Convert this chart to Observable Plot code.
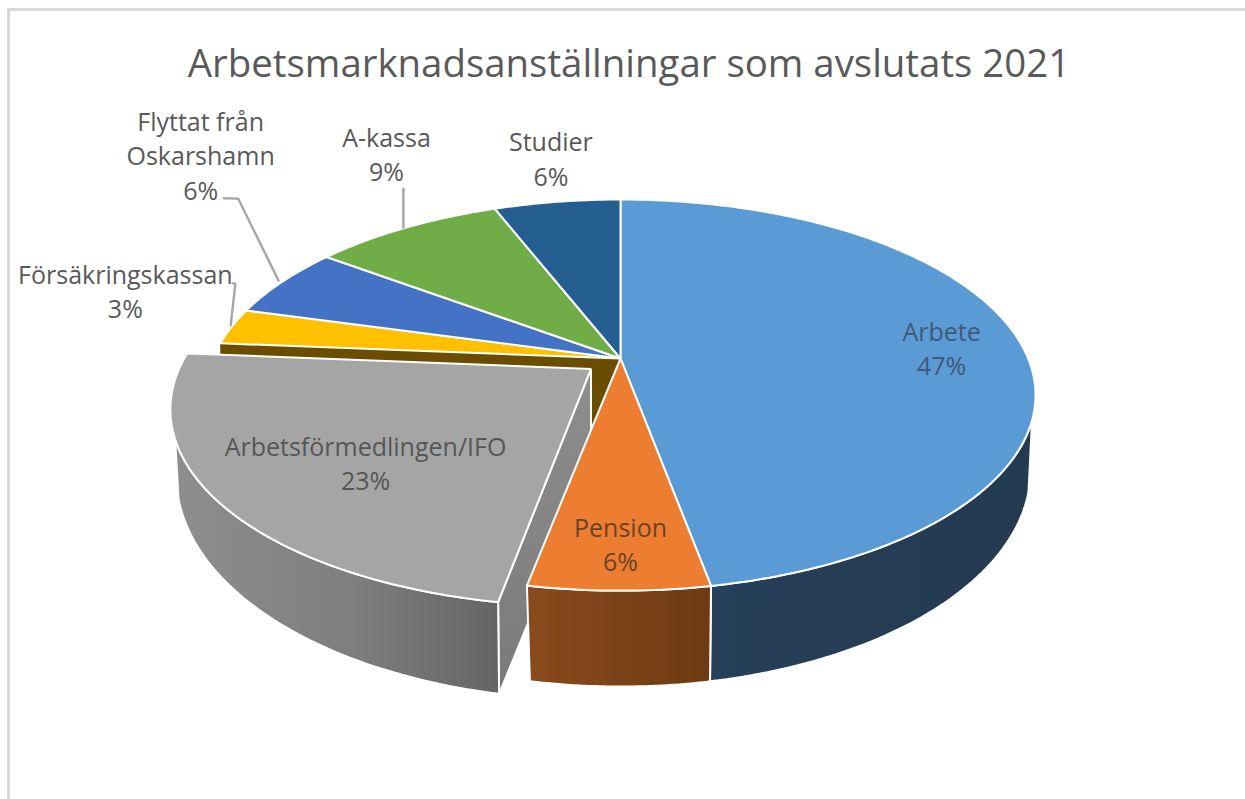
<!DOCTYPE html>
<html lang="sv">
<head>
<meta charset="utf-8">
<script src="https://cdn.jsdelivr.net/npm/d3@7"></script>
<script src="https://cdn.jsdelivr.net/npm/@observablehq/plot@0.6"></script>
<style>
  html, body { margin: 0; padding: 0; background: #fff; overflow: hidden; }
  #frame { position: absolute; left: 7px; top: 8px; right: 0; bottom: 0; border-top: 3px solid #d9d9d9; border-left: 3px solid #d9d9d9; }
  #title { position: absolute; left: 0; top: 0; width: 1245px; height: 90px; margin: 0; text-align: center; font: 400 38.4px/124px "Open Sans", sans-serif; color: #595959; padding-left: 13px; box-sizing: border-box; line-height: 124px; }
  #chart { position: absolute; left: 0; top: 90px; }
</style>
</head>
<body>
<div id="frame"></div>
<h1 id="title">Arbetsmarknadsanställningar som avslutats 2021</h1>
<div id="chart"></div>
<script>
// Data (clockwise from twelve o'clock)
const categories = ["Arbete", "Pension", "Arbetsförmedlingen/IFO", "Försäkringskassan", "Flyttat från\nOskarshamn", "A-kassa", "Studier"];
const shares = [47.1, 5.9, 23.3, 3.0, 5.9, 8.9, 5.9];
const percentLabels = ["47%", "6%", "23%", "3%", "6%", "9%", "6%"];
const sliceColors = ["#5b9bd5", "#ed7d31", "#a5a5a5", "#ffc000", "#4472c4", "#70ad47", "#255e91"];
const labelColors = ["#3d5a78", "#6a4326", "#565656", "#595959", "#595959", "#595959", "#595959"];
// Label placement relative to each slice: turn from the mid-angle (deg), and radius
const labelTurn = [0.8, -0.18, -3.94, 6.57, 20.3, 9.46, 1.52];
const labelRadius = [0.799, 0.827, 0.754, 1.36, 1.872, 1.545, 1.349];
// Leader lines: [angle, radius] per vertex, for the outer labels
const leaders = [
  [[280.4, 1.005], [292.8, 1.107], [292.7, 1.114]],
  [[296.2, 1.013], [312.1, 1.502], [311.1, 1.535]],
  [[322.5, 1.005], [329.4, 1.258]]
];

// Perspective view of the pie disc
const view = {cx: 620, cy: 358, a: 407.7, b: 188.7, k: 0.187};
const lowerMain = {cx: 620, cy: 470, rx: 410, ry: 216};
const lowerExploded = {cx: 592, cy: 476, rx: 416, ry: 223};
const explodedIndex = 2, explodeBy = 0.09, explodedStartAdjust = -1;
const titleBand = 90, W = 1245, H = 799;

const rad = (d) => d * Math.PI / 180;
function project(deg, r = 1, du = 0, dv = 0) {
  const u = r * Math.sin(rad(deg)) + du, v = -r * Math.cos(rad(deg)) + dv, w = 1 - view.k * v;
  return {x: view.cx + view.a * u / w, y: view.cy + view.b * v / w};
}
const arc = (a0, a1, du = 0, dv = 0) => {
  const n = Math.max(2, Math.ceil(Math.abs(a1 - a0)));
  return d3.range(n + 1).map((i) => project(a0 + (a1 - a0) * i / n, 1, du, dv));
};
// Lower rim between two x positions
const lowerArc = (e, x0, x1) => {
  const f0 = Math.acos((x0 - e.cx) / e.rx), f1 = Math.acos((x1 - e.cx) / e.rx);
  return d3.range(61).map((i) => {
    const f = f0 + (f1 - f0) * i / 60;
    return {x: e.cx + e.rx * Math.cos(f), y: e.cy + e.ry * Math.sin(f)};
  });
};

const ends = Array.from(d3.cumsum(shares), (c) => c * 3.6);
const starts = ends.map((_, i) => (i ? ends[i - 1] : 0));
const mids = starts.map((s, i) => (s + ends[i]) / 2);
const exMid = mids[explodedIndex];
const du = explodeBy * Math.sin(rad(exMid)), dv = -explodeBy * Math.cos(rad(exMid));
const exStart = starts[explodedIndex] + explodedStartAdjust, exEnd = ends[explodedIndex];

const tops = categories.map((_, i) => {
  if (i === explodedIndex) return [project(0, 0, du, dv), ...arc(exStart, exEnd, du, dv)];
  return [project(0, 0), ...arc(starts[i], ends[i])];
});

// Side walls
const arbeteRim = arc(108, ends[0]);
const rimX0 = project(ends[0]).x, rimX1 = project(ends[1]).x;
const arbeteSide = [...arbeteRim, ...lowerArc(lowerMain, rimX0 - 1, 1028)];
const pensionSide = [...arc(starts[1], ends[1]), ...lowerArc(lowerMain, rimX1 + 3, rimX0 - 1)];
const exCorner = project(exStart, 1, du, dv), exApex = project(0, 0, du, dv);
const graySide = [...arc(exStart, 250, du, dv), ...lowerArc(lowerExploded, 178, exCorner.x + 1)];
const exBottom = lowerArc(lowerExploded, exCorner.x + 1, exCorner.x + 1)[0];
const grayInner = [exApex, exCorner, exBottom, {x: exApex.x, y: exApex.y + 100}];
const cutRim = project(ends[explodedIndex]), apex = project(0, 0);
const cutWall = [cutRim, apex, {x: apex.x - 20, y: apex.y + 82}, {x: cutRim.x, y: cutRim.y + 82}];

const face = (pts, fill, strokeWidth = 2) =>
  Plot.line(pts, {x: "x", y: "y", fill, stroke: "#fff", strokeWidth, strokeLinejoin: "miter", curve: "linear-closed"});

const labels = categories.map((name, i) => ({
  ...project(mids[i] + labelTurn[i], labelRadius[i]),
  text: name + "\n" + percentLabels[i],
  color: labelColors[i]
}));
const leaderPoints = leaders.flatMap((pts, id) => pts.map(([deg, r]) => ({...project(deg, r), id})));

const drawOrder = [0, 1, 3, 4, 5, 6, 2];

const plot = Plot.plot({
  width: W, height: H - titleBand, margin: 0,
  x: {domain: [0, W], range: [0, W], axis: null},
  y: {domain: [titleBand, H], range: [0, H - titleBand], axis: null},
  color: {type: "identity"},
  style: {background: "transparent", overflow: "visible"},
  marks: [
    face(cutWall, "#6b4d00", 0),
    face(grayInner, "url(#wallGray)", 2),
    face(graySide, "url(#sideGray)", 2),
    face(arbeteSide, "url(#sideBlue)", 2),
    face(pensionSide, "url(#sideOrange)", 2),
    ...drawOrder.map((i) => face(tops[i], sliceColors[i], 2)),
    Plot.line(leaderPoints, {x: "x", y: "y", z: "id", stroke: "#a6a6a6", strokeWidth: 2.4, strokeLinejoin: "miter"}),
    Plot.text(labels, {
      x: "x", y: "y", text: "text", fill: "color",
      fontFamily: "'Open Sans', sans-serif", fontSize: 25, lineHeight: 1.38, textAnchor: "middle", lineAnchor: "middle"
    })
  ]
});

const defs = d3.select(plot).insert("defs", ":first-child");
[
  ["sideBlue", 0, [["0%", "#274059"], ["100%", "#233a51"]]],
  ["sideOrange", 0, [["0%", "#8a4a1c"], ["100%", "#6e3a12"]]],
  ["sideGray", 0, [["0%", "#8e8e8e"], ["55%", "#7e7e7e"], ["100%", "#656565"]]],
  ["wallGray", 90, [["0%", "#8e8e8e"], ["100%", "#7a7a7a"]]]
].forEach(([id, angle, stops]) => {
  const g = defs.append("linearGradient").attr("id", id).attr("x1", 0).attr("y1", 0)
    .attr("x2", angle ? 0 : 1).attr("y2", angle ? 1 : 0);
  stops.forEach(([offset, color]) => g.append("stop").attr("offset", offset).attr("stop-color", color));
});
document.getElementById("chart").append(plot);
</script>
</body>
</html>
